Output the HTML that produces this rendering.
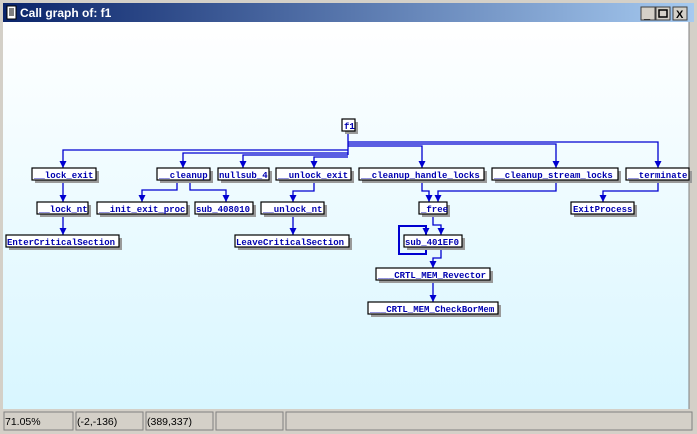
<!DOCTYPE html>
<html><head><style>
html,body{margin:0;padding:0;width:697px;height:434px;overflow:hidden;background:#d4d0c8;}
</style></head><body>
<svg width="697" height="434" xmlns="http://www.w3.org/2000/svg" font-family="Liberation Mono, monospace">
<defs>
<linearGradient id="tb" x1="0" x2="1"><stop offset="0" stop-color="#0a246a"/><stop offset="1" stop-color="#a6caf0"/></linearGradient>
<linearGradient id="bg" x1="0" y1="0" x2="0" y2="1"><stop offset="0" stop-color="#ffffff"/><stop offset="1" stop-color="#d8f6ff"/></linearGradient>
<marker id="a" viewBox="0 0 7 7" refX="7" refY="3.5" markerWidth="7" markerHeight="7" markerUnits="userSpaceOnUse" orient="auto"><path d="M0,0 L7,3.5 L0,7z" fill="#0000d0"/></marker>
</defs>
<rect x="0" y="0" width="697" height="434" fill="#d4d0c8"/>
<rect x="3" y="3" width="691" height="19" fill="url(#tb)"/>
<rect x="7" y="6" width="9" height="13" fill="#fff" stroke="#000" stroke-width="1"/>
<path d="M9,9h5M9,11h5M9,13h5M9,15h5" stroke="#000"/>
<text x="20" y="17" font-family="Liberation Sans, sans-serif" font-size="12" font-weight="bold" fill="#fff">Call graph of: f1</text>
<g font-family="Liberation Sans, sans-serif" font-size="11" font-weight="bold">
<rect x="641" y="7" width="14" height="13" fill="#d4d0c8" stroke="#404040"/><text x="644" y="18">_</text>
<rect x="656" y="7" width="14" height="13" fill="#d4d0c8" stroke="#404040"/><rect x="659" y="10" width="8" height="7" fill="none" stroke="#000" stroke-width="1.5"/>
<rect x="673" y="7" width="14" height="13" fill="#d4d0c8" stroke="#404040"/><text x="676" y="18">X</text>
</g>
<rect x="3" y="22" width="687" height="387" fill="url(#bg)"/>
<rect x="689" y="22" width="5" height="387" fill="#d4d0c8"/>
<line x1="689" y1="22" x2="689" y2="409" stroke="#808080"/>
<g font-family="Liberation Sans, sans-serif" font-size="10.5" fill="#000">
<rect x="4" y="412" width="69" height="18" fill="none" stroke="#808080"/>
<rect x="76" y="412" width="67" height="18" fill="none" stroke="#808080"/>
<rect x="146" y="412" width="67" height="18" fill="none" stroke="#808080"/>
<rect x="216" y="412" width="67" height="18" fill="none" stroke="#808080"/>
<rect x="286" y="412" width="406" height="18" fill="none" stroke="#808080"/>
<text x="5" y="425">71.05%</text><text x="77" y="425">(-2,-136)</text><text x="147" y="425">(389,337)</text>
</g>
<g stroke="#0000d0" stroke-width="1.3" fill="none">
<path d="M348,131V155"/>
<path d="M348,150H63V168" marker-end="url(#a)"/>
<path d="M348,153H183V168" marker-end="url(#a)"/>
<path d="M348,155H243V168" marker-end="url(#a)"/>
<path d="M348,157H314V168" marker-end="url(#a)"/>
<path d="M348,142H658V168" marker-end="url(#a)"/>
<path d="M348,144H556V168" marker-end="url(#a)"/>
<path d="M348,146H422V168" marker-end="url(#a)"/>
<path d="M63,180V202" marker-end="url(#a)"/>
<path d="M63,214V235" marker-end="url(#a)"/>
<path d="M177,180V190H142V202" marker-end="url(#a)"/>
<path d="M190,180V190H226V202" marker-end="url(#a)"/>
<path d="M314,180V191H293V202" marker-end="url(#a)"/>
<path d="M293,214V235" marker-end="url(#a)"/>
<path d="M422,180V191H429V202" marker-end="url(#a)"/>
<path d="M556,180V191H438V202" marker-end="url(#a)"/>
<path d="M658,180V191H603V202" marker-end="url(#a)"/>
<path d="M433,214V225H441V235" marker-end="url(#a)"/>
<path d="M426,247V254H399V226H426V235" stroke-width="2" marker-end="url(#a)"/>
<path d="M441,247V258H433V268" marker-end="url(#a)"/>
<path d="M433,280V302" marker-end="url(#a)"/>
</g>
<g font-size="9" font-weight="bold" fill="#0000b0">
<g fill="#9a9a9a">
<rect x="345" y="122" width="13" height="12"/>
<rect x="35" y="171" width="64" height="12"/><rect x="160" y="171" width="53" height="12"/><rect x="221" y="171" width="51" height="12"/><rect x="279" y="171" width="75" height="12"/><rect x="362" y="171" width="125" height="12"/><rect x="495" y="171" width="126" height="12"/><rect x="629" y="171" width="63" height="12"/>
<rect x="40" y="205" width="51" height="12"/><rect x="100" y="205" width="90" height="12"/><rect x="198" y="205" width="58" height="12"/><rect x="264" y="205" width="63" height="12"/><rect x="422" y="205" width="28" height="12"/><rect x="574" y="205" width="63" height="12"/>
<rect x="9" y="238" width="113" height="12"/><rect x="238" y="238" width="114" height="12"/><rect x="407" y="238" width="58" height="12"/>
<rect x="379" y="271" width="114" height="12"/><rect x="371" y="305" width="130" height="12"/>
</g>
<g fill="#fff" stroke="#000" stroke-width="1.2">
<rect x="342" y="119" width="13" height="12"/>
<rect x="32" y="168" width="64" height="12"/><rect x="157" y="168" width="53" height="12"/><rect x="218" y="168" width="51" height="12"/><rect x="276" y="168" width="75" height="12"/><rect x="359" y="168" width="125" height="12"/><rect x="492" y="168" width="126" height="12"/><rect x="626" y="168" width="63" height="12"/>
<rect x="37" y="202" width="51" height="12"/><rect x="97" y="202" width="90" height="12"/><rect x="195" y="202" width="58" height="12"/><rect x="261" y="202" width="63" height="12"/><rect x="419" y="202" width="28" height="12"/><rect x="571" y="202" width="63" height="12"/>
<rect x="6" y="235" width="113" height="12"/><rect x="235" y="235" width="114" height="12"/><rect x="404" y="235" width="58" height="12"/>
<rect x="376" y="268" width="114" height="12"/><rect x="368" y="302" width="130" height="12"/>
</g>
<text x="344" y="129">f1</text>
<text x="34" y="178">__lock_exit</text>
<text x="159" y="178">__cleanup</text>
<text x="219" y="178">nullsub_4</text>
<text x="278" y="178">__unlock_exit</text>
<text x="361" y="178">__cleanup_handle_locks</text>
<text x="494" y="178">__cleanup_stream_locks</text>
<text x="628" y="178">__terminate</text>
<text x="39" y="212">__lock_nt</text>
<text x="99" y="212">__init_exit_proc</text>
<text x="196" y="212">sub_408010</text>
<text x="263" y="212">__unlock_nt</text>
<text x="421" y="212">_free</text>
<text x="573" y="212">ExitProcess</text>
<text x="7" y="245">EnterCriticalSection</text>
<text x="236" y="245">LeaveCriticalSection</text>
<text x="405" y="245">sub_401EF0</text>
<text x="378" y="278">___CRTL_MEM_Revector</text>
<text x="370" y="312">___CRTL_MEM_CheckBorMem</text>
</g>
</svg>
</body></html>
